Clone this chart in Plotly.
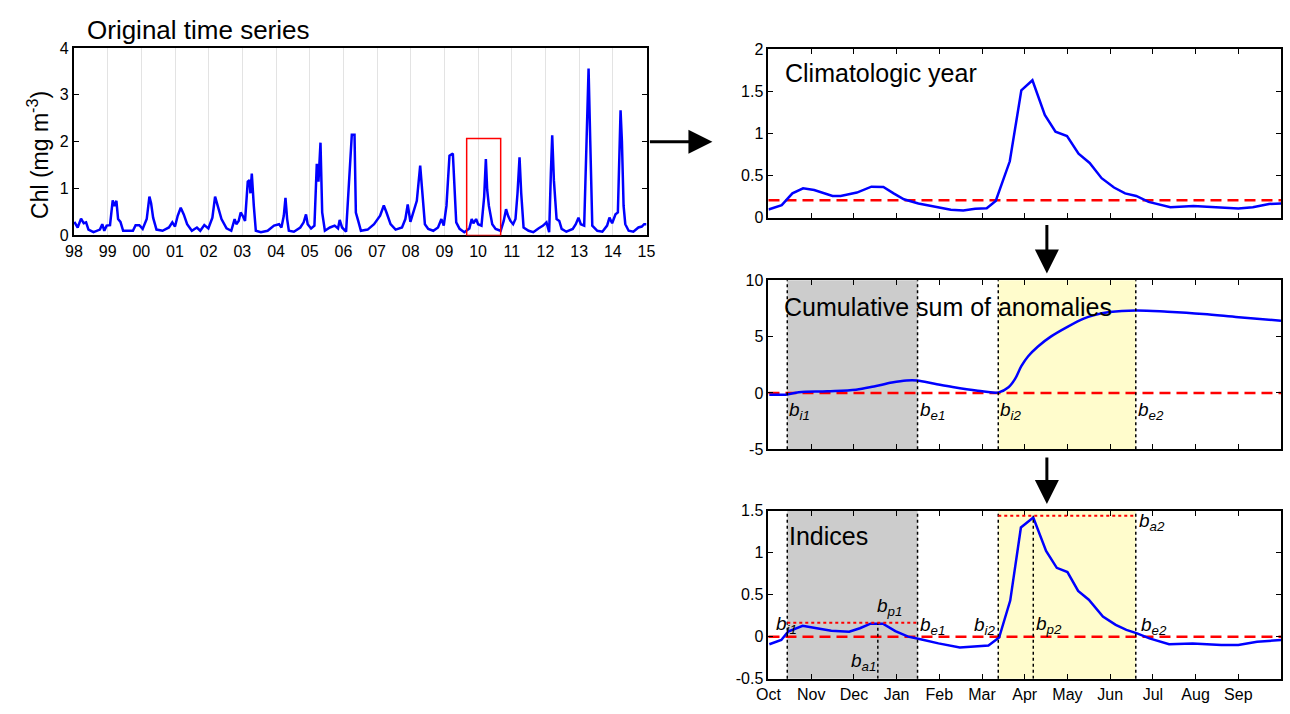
import plotly.graph_objects as go

# ---------------- data ----------------
# Original time series (years since 1998, Chl mg m-3)
ts_t = [0.01,0.11,0.21,0.29,0.36,0.43,0.58,0.77,0.84,0.9,0.97,1.07,1.15,1.2,1.26,1.31,1.38,1.46,1.6,1.75,
        1.83,1.94,2.04,2.16,2.24,2.29,2.35,2.45,2.63,2.82,2.92,3.0,3.08,3.17,3.26,3.36,3.5,3.65,3.75,3.87,
        3.99,4.11,4.19,4.26,4.38,4.53,4.67,4.77,4.82,4.89,4.95,5.01,5.08,5.16,5.21,5.24,5.28,5.34,5.40,5.55,
        5.75,5.94,6.09,6.16,6.23,6.28,6.33,6.38,6.53,6.72,6.82,6.89,6.94,7.04,7.14,7.21,7.26,7.32,7.37,7.45,
        7.6,7.74,7.84,7.89,7.96,8.08,8.21,8.25,8.33,8.37,8.44,8.52,8.72,8.91,9.09,9.2,9.28,9.4,9.55,9.74,
        9.84,9.91,9.99,10.08,10.18,10.28,10.35,10.42,10.52,10.67,10.81,10.91,10.98,11.06,11.15,11.25,11.35,11.45,11.59,11.74,
        11.81,11.86,11.94,12.0,12.1,12.18,12.23,12.27,12.32,12.42,12.52,12.67,12.76,12.83,12.89,12.96,13.04,13.11,13.17,13.23,
        13.28,13.35,13.5,13.64,13.79,13.93,14.03,14.11,14.16,14.2,14.25,14.33,14.41,14.48,14.62,14.81,14.9,14.98,15.05,15.15,
        15.22,15.28,15.33,15.39,15.54,15.69,15.83,15.9,15.98,16.08,16.15,16.2,16.23,16.27,16.32,16.37,16.47,16.61,16.76,16.86,
        16.93,17.0]
ts_chl = [0.29,0.17,0.36,0.26,0.28,0.125,0.07,0.125,0.24,0.1,0.21,0.22,0.75,0.625,0.74,0.35,0.29,0.1,0.1,0.1,
          0.22,0.22,0.14,0.35,0.83,0.69,0.38,0.125,0.1,0.17,0.28,0.19,0.42,0.59,0.45,0.24,0.1,0.17,0.1,0.22,
          0.15,0.38,0.83,0.66,0.35,0.15,0.1,0.35,0.24,0.31,0.49,0.42,0.31,1.15,1.18,0.9,1.32,0.63,0.1,0.07,
          0.1,0.21,0.24,0.17,0.42,0.8,0.35,0.1,0.08,0.17,0.28,0.45,0.24,0.15,0.21,1.53,1.15,1.98,0.49,0.1,
          0.17,0.21,0.15,0.33,0.17,0.08,1.53,2.15,2.15,0.49,0.31,0.1,0.125,0.24,0.42,0.64,0.49,0.24,0.125,0.17,
          0.35,0.66,0.29,0.49,0.74,1.49,0.9,0.24,0.14,0.1,0.17,0.35,0.21,0.63,1.7,1.75,0.28,0.14,0.07,0.15,
          0.35,0.26,0.35,0.24,0.21,0.83,1.63,0.97,0.63,0.24,0.14,0.1,0.31,0.56,0.42,0.31,0.24,0.35,0.9,1.67,
          0.9,0.17,0.1,0.07,0.15,0.21,0.28,0.07,1.32,2.14,1.18,0.35,0.31,0.14,0.08,0.14,0.24,0.38,0.24,0.21,
          2.01,3.56,2.01,0.21,0.1,0.08,0.21,0.38,0.26,0.45,0.49,1.81,2.67,2.01,0.63,0.24,0.1,0.08,0.17,0.19,
          0.24,0.24]
year_ticks = list(range(0, 18))
year_labels = ["98","99","00","01","02","03","04","05","06","07","08","09","10","11","12","13","14","15"]
box_t = [11.66, 12.67]
box_chl = 2.07

# Climatologic year (months since 1 Oct)
clim_m = [0,0.31,0.56,0.81,1.07,1.5,1.69,2.07,2.41,2.69,2.93,3.17,3.51,3.89,4.27,4.56,4.84,5.11,5.32,5.65,
          5.92,6.18,6.47,6.72,6.99,7.26,7.52,7.8,8.09,8.35,8.61,8.9,9.14,9.41,9.95,10.48,11.0,11.34,11.72,12.0]
clim_v = [0.1,0.15,0.29,0.35,0.33,0.26,0.26,0.30,0.37,0.365,0.29,0.22,0.17,0.135,0.096,0.088,0.108,0.115,0.20,0.67,
          1.51,1.63,1.22,1.02,0.97,0.76,0.65,0.47,0.36,0.29,0.26,0.19,0.16,0.127,0.14,0.123,0.11,0.127,0.165,0.17]
threshold = 0.21

# Cumulative sum of anomalies
cum_m = [0.02,0.40,0.71,1.38,2.05,2.47,2.89,3.23,3.48,3.89,4.31,4.9,5.39,5.62,5.77,5.92,6.08,6.31,6.61,7.0,
         7.38,7.61,7.99,8.6,9.34,10.18,11.01,12.0]
cum_v = [-0.15,-0.15,0.06,0.15,0.29,0.58,0.92,1.1,1.1,0.81,0.52,0.2,0.05,0.5,1.22,2.38,3.26,4.13,5.0,5.87,
         6.6,6.89,7.18,7.33,7.22,7.02,6.73,6.42]

# Indices (anomalies)
idx_m = [0.02,0.3,0.46,0.8,1.13,1.47,1.89,2.14,2.39,2.68,2.97,3.27,3.56,3.98,4.48,4.9,5.15,5.4,5.66,5.91,
         6.2,6.5,6.75,7.0,7.25,7.5,7.83,8.13,8.38,8.63,8.92,9.38,9.93,10.6,11.0,11.44,12.0]
idx_v = [-0.09,-0.04,0.06,0.13,0.10,0.07,0.06,0.10,0.155,0.155,0.066,0.0,-0.03,-0.08,-0.13,-0.11,-0.105,-0.01,0.43,1.30,
         1.42,1.02,0.82,0.77,0.545,0.44,0.24,0.14,0.08,0.04,-0.02,-0.09,-0.08,-0.1,-0.1,-0.06,-0.04]

# Bloom indices
b_i1, b_e1, b_i2, b_e2 = 0.44, 3.49, 5.38, 8.6
b_p1, b_p2 = 2.56, 6.2
b_a1, b_a2 = 0.167, 1.44

month_ticks = list(range(0, 12))
month_labels = ["Oct","Nov","Dec","Jan","Feb","Mar","Apr","May","Jun","Jul","Aug","Sep"]

# ---------------- figure ----------------
W, H = 1290, 714
FONT = "Liberation Sans, Arial, Helvetica, sans-serif"
BLUE = "#0000ff"
RED = "#ff0000"
RED_DASH = "11px,6px"

def px(X):
    return X / W

def py(Y):
    return 1 - Y / H

fig = go.Figure()

fig.add_trace(go.Scatter(x=ts_t, y=ts_chl, mode="lines", line=dict(color=BLUE, width=2.5),
                         xaxis="x", yaxis="y", showlegend=False))
fig.add_trace(go.Scatter(x=clim_m, y=clim_v, mode="lines", line=dict(color=BLUE, width=2.5),
                         xaxis="x2", yaxis="y2", showlegend=False))
fig.add_trace(go.Scatter(x=cum_m, y=cum_v, mode="lines", line=dict(color=BLUE, width=2.5, shape="spline"),
                         xaxis="x3", yaxis="y3", showlegend=False))
fig.add_trace(go.Scatter(x=idx_m, y=idx_v, mode="lines", line=dict(color=BLUE, width=2.5),
                         xaxis="x4", yaxis="y4", showlegend=False))

axis_common = dict(showline=True, linecolor="black", linewidth=2, mirror="allticks",
                   ticks="inside", ticklen=5, tickcolor="black", tickwidth=1,
                   tickfont=dict(family=FONT, size=16, color="black"), zeroline=False, showgrid=False)

xr_dom = [px(769), 1.0]
fig.update_layout(
    width=W, height=H, autosize=False, margin=dict(l=0, r=0, t=0, b=0),
    paper_bgcolor="white", plot_bgcolor="white", showlegend=False,
    xaxis=dict(axis_common, domain=[px(63), px(645)], range=[0, 17], tickvals=year_ticks,
               ticktext=year_labels, ticks="", showgrid=True, gridcolor="#e3e3e3", gridwidth=1,
               anchor="y"),
    yaxis=dict(axis_common, domain=[py(233), py(41)], range=[0, 4], tickvals=[0, 1, 2, 3, 4],
               ticktext=["0", "1", "2", "3", "4"], anchor="x"),
    xaxis2=dict(axis_common, domain=xr_dom, range=[0, 12], tickvals=month_ticks,
                showticklabels=False, anchor="y2"),
    yaxis2=dict(axis_common, domain=[py(215), py(42)], range=[0, 2], tickvals=[0, 0.5, 1, 1.5, 2],
                ticktext=["0", "0.5", "1", "1.5", "2"], anchor="x2"),
    xaxis3=dict(axis_common, domain=xr_dom, range=[0, 12], tickvals=month_ticks,
                showticklabels=False, anchor="y3"),
    yaxis3=dict(axis_common, domain=[py(452), py(279)], range=[-5, 10], tickvals=[-5, 0, 5, 10],
                ticktext=["-5", "0", "5", "10"], anchor="x3"),
    xaxis4=dict(axis_common, domain=xr_dom, range=[0, 12], tickvals=month_ticks,
                ticktext=month_labels, anchor="y4"),
    yaxis4=dict(axis_common, domain=[py(687), py(515)], range=[-0.5, 1.5],
                tickvals=[-0.5, 0, 0.5, 1, 1.5], ticktext=["-0.5", "0", "0.5", "1", "1.5"], anchor="x4"),
)

shapes = []
# red box on original series
shapes.append(dict(type="rect", xref="x", yref="y", x0=box_t[0], x1=box_t[1], y0=0, y1=box_chl,
                   line=dict(color=RED, width=1.5), fillcolor="rgba(0,0,0,0)", layer="above"))
# threshold in climatology
shapes.append(dict(type="line", xref="x2 domain", yref="y2", x0=0, x1=1, y0=threshold, y1=threshold,
                   line=dict(color=RED, width=2.5, dash=RED_DASH), layer="below"))
for ax in ("3", "4"):
    shapes.append(dict(type="rect", xref="x" + ax, yref="y" + ax + " domain", x0=b_i1, x1=b_e1, y0=0, y1=1,
                       fillcolor="#cccccc", line=dict(width=0), layer="below"))
    shapes.append(dict(type="rect", xref="x" + ax, yref="y" + ax + " domain", x0=b_i2, x1=b_e2, y0=0, y1=1,
                       fillcolor="#fffccc", line=dict(width=0), layer="below"))
    shapes.append(dict(type="line", xref="x" + ax + " domain", yref="y" + ax, x0=0, x1=1, y0=0, y1=0,
                       line=dict(color=RED, width=2.5, dash=RED_DASH), layer="below"))
    for bx in (b_i1, b_e1, b_i2, b_e2):
        shapes.append(dict(type="line", xref="x" + ax, yref="y" + ax + " domain", x0=bx, x1=bx, y0=0, y1=1,
                           line=dict(color="black", width=1.5, dash="dot"), layer="above"))
# peak lines in indices
shapes.append(dict(type="line", xref="x4", yref="y4", x0=b_p1, x1=b_p1, y0=-0.5, y1=b_a1,
                   line=dict(color="black", width=1.5, dash="dot")))
shapes.append(dict(type="line", xref="x4", yref="y4", x0=b_p2, x1=b_p2, y0=-0.5, y1=b_a2,
                   line=dict(color="black", width=1.5, dash="dot")))
shapes.append(dict(type="line", xref="x4", yref="y4", x0=b_i1, x1=b_e1, y0=b_a1, y1=b_a1,
                   line=dict(color=RED, width=2, dash="dot")))
shapes.append(dict(type="line", xref="x4", yref="y4", x0=b_i2, x1=b_e2, y0=b_a2, y1=b_a2,
                   line=dict(color=RED, width=2, dash="dot")))
fig.update_layout(shapes=shapes)

ann = []
def title(text, xp, yp, size=25):
    ann.append(dict(text=text, xref="paper", yref="paper", x=px(xp), y=py(yp), xanchor="left",
                    yanchor="middle", showarrow=False, font=dict(family=FONT, size=size, color="black")))

title("Original time series", 74, 23, 26)
title("Climatologic year", 784, 67)
title("Cumulative sum of anomalies", 783, 306)
title("Indices", 788, 541)

ann.append(dict(text="Chl (mg m<sup>-3</sup>)", xref="paper", yref="paper", x=px(27), y=py(151),
                textangle=-90, showarrow=False, xanchor="center", yanchor="middle",
                font=dict(family=FONT, size=23, color="black")))

def blab(sym, sub, xref, yref, x, y, xanchor, xshift=0):
    ann.append(dict(text="<i>%s</i><sub><i>%s</i></sub>" % (sym, sub), xref=xref, yref=yref, x=x, y=y,
                    xanchor=xanchor, yanchor="middle", xshift=xshift, showarrow=False,
                    font=dict(family=FONT, size=19, color="black")))

for bx, sub in ((b_i1, "i1"), (b_e1, "e1"), (b_i2, "i2"), (b_e2, "e2")):
    blab("b", sub, "x3", "y3", bx, -1.6, "left", 0)

blab("b", "i1", "x4", "y4", b_i1, 0.14, "right", 12)
blab("b", "e1", "x4", "y4", b_e1, 0.13, "left", 0)
blab("b", "i2", "x4", "y4", b_i2, 0.13, "right", 0)
blab("b", "e2", "x4", "y4", b_e2, 0.13, "left", 3)
blab("b", "p1", "x4", "y4", b_p1, 0.35, "left", -3)
blab("b", "a1", "x4", "y4", b_p1, -0.3, "right", 0)
blab("b", "p2", "x4", "y4", b_p2, 0.14, "left", 1)
blab("b", "a2", "x4", "y4", b_e2, 1.36, "left", 1)

# arrows
def arrow(xtip, ytip, ax, ay):
    ann.append(dict(text="", xref="paper", yref="paper", x=px(xtip), y=py(ytip), ax=ax, ay=ay,
                    showarrow=True, arrowhead=2, arrowsize=1.6, arrowwidth=3, arrowcolor="black"))

arrow(712, 137, -64, 0)
arrow(1052, 272, 0, -50)
arrow(1052, 508, 0, -48)

fig.update_layout(annotations=ann)

post = ("var d=document.getElementById('{plot_id}');"
        "d.style.position='absolute';d.style.left='0px';d.style.top='0px';"
        "document.documentElement.style.margin='0';document.body.style.margin='0';"
        "document.body.style.padding='0';document.body.style.overflow='hidden';")
fig.write_html("out.html", config={"displayModeBar": False}, post_script=post)
